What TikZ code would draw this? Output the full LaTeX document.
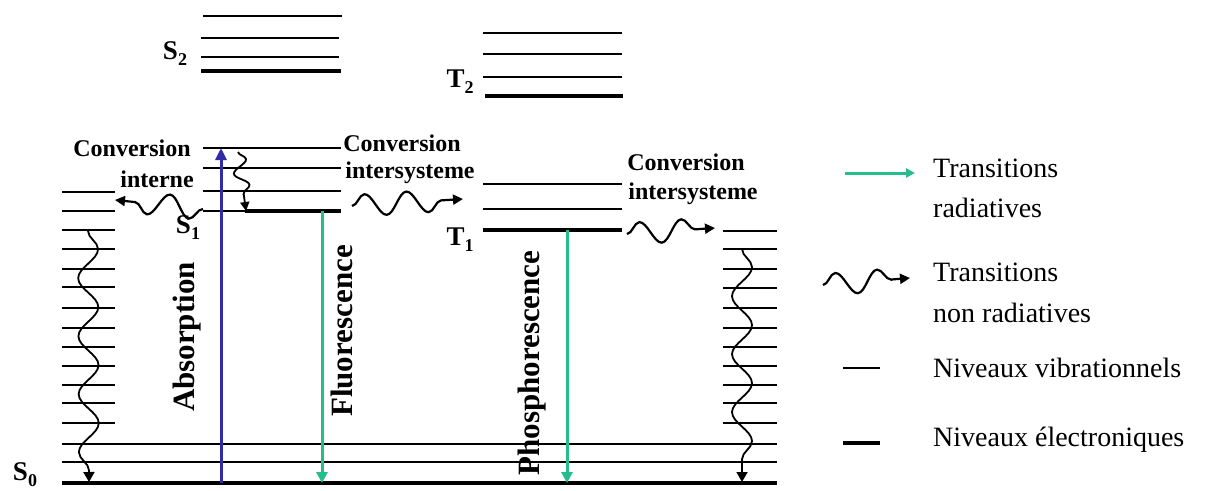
\documentclass[tikz,border=0pt]{standalone}
\usepackage{fontspec}
\setmainfont{Liberation Serif}
\usetikzlibrary{arrows.meta,decorations.pathmorphing}
\definecolor{radgreen}{RGB}{35,190,140}
\definecolor{absblue}{RGB}{50,45,165}
\begin{document}
\begin{tikzpicture}[x=1pt,y=-1pt,
  vib/.style={line width=1.5pt},
  elec/.style={line width=4.5pt},
  radarrow/.style={line width=3pt,radgreen,-{Triangle[width=11pt,length=11pt]}},
  absarrow/.style={line width=3pt,absblue,-{Triangle[width=11pt,length=12pt]}},
  wavehoriz/.style={line width=2.2pt,-{Triangle[width=10pt,length=10pt]},decorate,
     decoration={snake,amplitude=11pt,segment length=42pt,post length=12pt}},
  wavevert/.style={line width=1.8pt,-{Triangle[width=11pt,length=10pt]},decorate,
     decoration={snake,amplitude=10pt,segment length=58pt,post length=8pt}},
  wavesmall/.style={line width=1.8pt,-{Triangle[width=9pt,length=9pt]},decorate,
     decoration={snake,amplitude=7pt,segment length=26pt,post length=6pt}},
  statelab/.style={font=\bfseries\fontsize{27}{27}\selectfont,inner sep=0pt},
  proclab/.style={font=\bfseries\fontsize{24}{24}\selectfont,inner sep=0pt},
  rotlab/.style={font=\bfseries\fontsize{31}{31}\selectfont,inner sep=0pt,rotate=90},
  leglab/.style={font=\fontsize{28}{28}\selectfont,inner sep=0pt,anchor=west}
]
\useasboundingbox (0,0) rectangle (1207,490);

% ---- S2 levels
\draw[vib] (203,16) -- (342,16);
\foreach \y in {38,57} \draw[vib] (201,\y) -- (339,\y);
\draw[elec] (201,71) -- (341,71);
% ---- T2 levels
\foreach \y in {33,54,77} \draw[vib] (483,\y) -- (622,\y);
\draw[elec] (485,96) -- (623,96);
% ---- S1 levels
\foreach \y in {148,168,191} \draw[vib] (203,\y) -- (341,\y);
\draw[vib] (203,211) -- (245,211);
\draw[elec] (245,211) -- (341,211);
% ---- T1 levels
\foreach \y in {184,209} \draw[vib] (483,\y) -- (622,\y);
\draw[elec] (483,230) -- (622,230);
% ---- S0 vibrational stacks
\foreach \y in {192,211,230,249,269,287,308,328,347,366,385,403,423}
  \draw[vib] (62,\y) -- (115,\y);
\foreach \y in {231,249,269,288,308,328,347,366,385,403,423}
  \draw[vib] (723,\y) -- (777,\y);
\foreach \y in {444,462} \draw[vib] (62,\y) -- (777,\y);
\draw[elec] (62,483) -- (777,483);

% ---- coordinates
\coordinate (absS) at (221,483);
\coordinate (absE) at (221,148);
\coordinate (fluS) at (322,211);
\coordinate (fluE) at (322,483);
\coordinate (phoS) at (567,230);
\coordinate (phoE) at (567,483);
\coordinate (icS) at (238,152);
\coordinate (icE) at (246,211);
\coordinate (ciS) at (203,209);
\coordinate (ciE) at (115,200);
\coordinate (isc1S) at (352,206);
\coordinate (isc1E) at (463,199);
\coordinate (isc2S) at (627,234);
\coordinate (isc2E) at (715,228);
\coordinate (lvS) at (88,231);
\coordinate (lvE) at (89,482);
\coordinate (rvS) at (742,249);
\coordinate (rvE) at (742,482);

% ---- radiative transitions
\draw[absarrow] (absS) -- (absE);
\draw[radarrow] (fluS) -- (fluE);
\draw[radarrow] (phoS) -- (phoE);

% ---- non radiative transitions
\draw[wavesmall] (icS) -- (icE);
\draw[wavehoriz] (ciS) -- (ciE);
\draw[wavehoriz] (isc1S) -- (isc1E);
\draw[wavehoriz] (isc2S) -- (isc2E);
\draw[wavevert] (lvS) -- (lvE);
\draw[wavevert] (rvS) -- (rvE);

% ---- state labels
\node[statelab] (s2) at (175,54) {S\raisebox{-6pt}{\fontsize{18}{18}\selectfont 2}};
\node[statelab] (t2) at (460,82) {T\raisebox{-6pt}{\fontsize{18}{18}\selectfont 2}};
\node[statelab] (s1) at (188,228) {S\raisebox{-6pt}{\fontsize{18}{18}\selectfont 1}};
\node[statelab] (t1) at (460,240) {T\raisebox{-6pt}{\fontsize{18}{18}\selectfont 1}};
\node[statelab] (s0) at (25,475) {S\raisebox{-6pt}{\fontsize{18}{18}\selectfont 0}};

% ---- process labels
\node[proclab] (ci1) at (132,148) {Conversion};
\node[proclab] (ci2) at (157,179) {interne};
\node[proclab] (is1) at (402,143) {Conversion};
\node[proclab] (is2) at (410,173) {intersysteme};
\node[proclab] (ir1) at (686,162) {Conversion};
\node[proclab] (ir2) at (693,194) {intersysteme};
\node[rotlab] (abs) at (187,337) {Absorption};
\node[rotlab] (flu) at (342,331) {Fluorescence};
\node[rotlab] (pho) at (532,363) {Phosphorescence};

% ---- legend
\coordinate (lg1S) at (845,173);
\coordinate (lg1E) at (915,173);
\draw[line width=3pt,radgreen,-{Triangle[width=9pt,length=9pt]}] (lg1S) -- (lg1E);
\node[leglab] (l1a) at (933,168) {Transitions};
\node[leglab] (l1b) at (933,208) {radiatives};
\coordinate (lg2S) at (823,285);
\coordinate (lg2E) at (910,278);
\draw[wavehoriz] (lg2S) -- (lg2E);
\node[leglab] (l2a) at (933,272) {Transitions};
\node[leglab] (l2b) at (933,313) {non radiatives};
\coordinate (lg3S) at (843,368);
\coordinate (lg3E) at (880,368);
\draw[vib] (lg3S) -- (lg3E);
\node[leglab] (l3) at (933,368) {Niveaux vibrationnels};
\coordinate (lg4S) at (843,443);
\coordinate (lg4E) at (880,443);
\draw[elec] (lg4S) -- (lg4E);
\node[leglab] (l4) at (933,440) {Niveaux électroniques};
\end{tikzpicture}
\end{document}
